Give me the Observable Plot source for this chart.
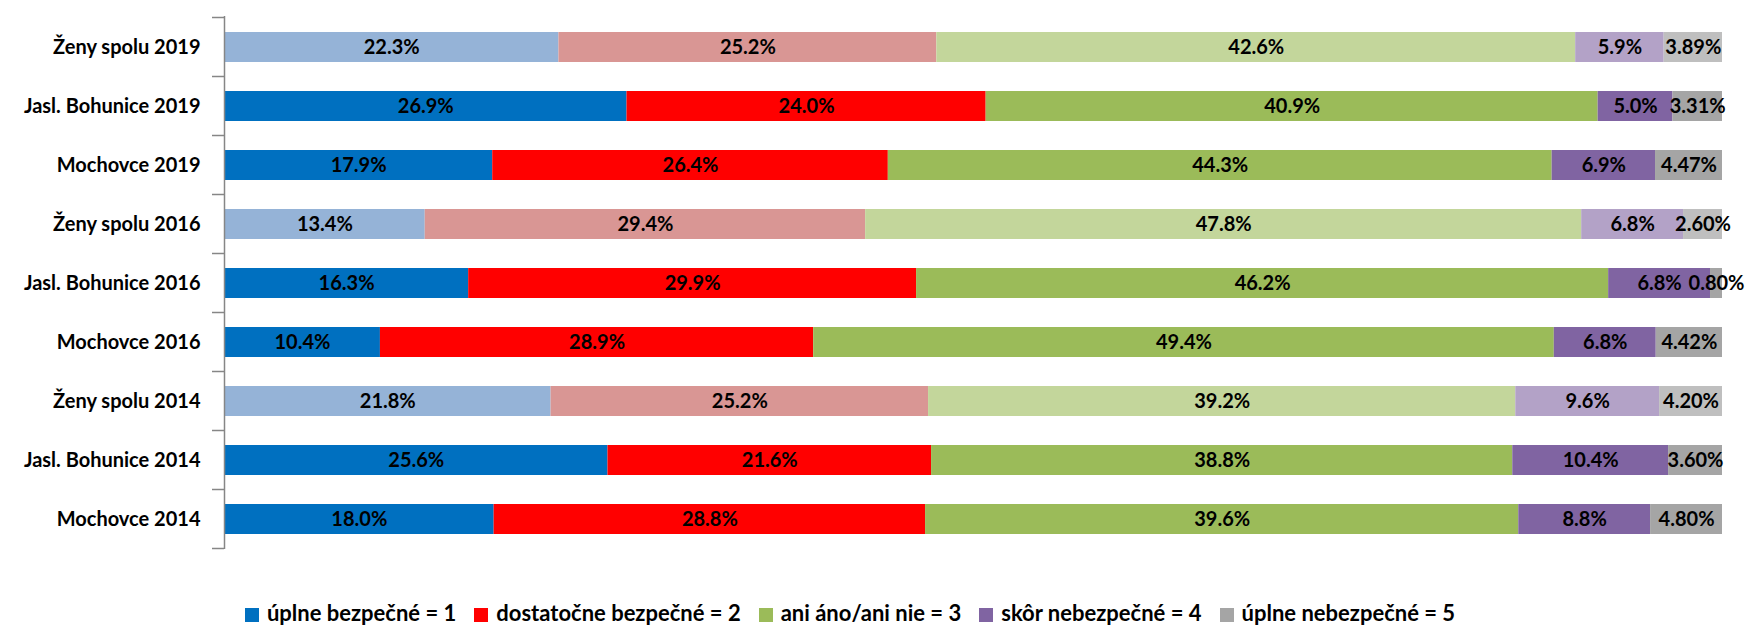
<!DOCTYPE html>
<html><head><meta charset="utf-8">
<script src="https://cdn.jsdelivr.net/npm/d3@7"></script>
<script src="https://cdn.jsdelivr.net/npm/@observablehq/plot@0.6"></script>
<style>
body{margin:0;background:#fff;font-family:Lato, sans-serif;}
#wrap{position:relative;width:1750px;height:628px;overflow:hidden;}
#legend{position:absolute;top:600px;left:0;width:1700px;height:26px;line-height:26px;display:flex;justify-content:center;align-items:center;gap:18px;font:bold 22px/26px Lato, sans-serif;color:#000;}
#legend .item{display:flex;align-items:center;gap:8px;white-space:nowrap;}
#legend .sw{width:14px;height:14px;display:inline-block;margin-top:3px;}
</style></head><body><div id="wrap"><div id="chart"></div><div id="legend"></div></div>
<script>
const rows = ["Ženy spolu 2019","Jasl. Bohunice 2019","Mochovce 2019","Ženy spolu 2016","Jasl. Bohunice 2016","Mochovce 2016","Ženy spolu 2014","Jasl. Bohunice 2014","Mochovce 2014"];
const rowShade = ["light","dark","dark","light","dark","dark","light","dark","dark"];
const categories = ["úplne bezpečné = 1","dostatočne bezpečné = 2","ani áno/ani nie = 3","skôr nebezpečné = 4","úplne nebezpečné = 5"];
const cat1 = [22.3,26.9,17.9,13.4,16.3,10.4,21.8,25.6,18.0];
const cat2 = [25.2,24.0,26.4,29.4,29.9,28.9,25.2,21.6,28.8];
const cat3 = [42.6,40.9,44.3,47.8,46.2,49.4,39.2,38.8,39.6];
const cat4 = [5.9,5.0,6.9,6.8,6.8,6.8,9.6,10.4,8.8];
const cat5 = [3.89,3.31,4.47,2.60,0.80,4.42,4.20,3.60,4.80];
const labelDecimals = [1,1,1,1,2];
const darkColors = ["#0070C0","#FF0000","#9BBB59","#8064A2","#A5A5A5"];
const lightColors = ["#95B3D7","#D99694","#C3D69B","#B3A2C7","#BFBFBF"];

const series = [cat1,cat2,cat3,cat4,cat5];
const data = [];
rows.forEach((r,i) => series.forEach((s,c) => data.push({
  row: r, cat: categories[c], ci: c, value: s[i],
  key: rowShade[i] + "|" + c,
  label: s[i].toFixed(labelDecimals[c]) + "%"
})));
const colorDomain = [], colorRange = [];
categories.forEach((c,i) => {
  colorDomain.push("dark|"+i, "light|"+i);
  colorRange.push(darkColors[i], lightColors[i]);
});

const stackOpts = {x: "value", y: "row", z: "cat", order: categories, offset: "normalize"};
const plot = Plot.plot({
  width: 1750, height: 575,
  marginLeft: 224, marginRight: 28, marginTop: 16, marginBottom: 26,
  style: {fontFamily: "Lato, sans-serif", background: "#fff"},
  x: {domain: [0,1], axis: null},
  y: {domain: rows, paddingInner: 0.5, paddingOuter: 0.25, label: null},
  color: {type: "ordinal", domain: colorDomain, range: colorRange},
  marks: [
    Plot.barX(data, Plot.stackX({...stackOpts, fill: "key"})),
    Plot.text(data, Plot.stackX({...stackOpts, text: "label", fill: "#000", fontSize: 20, fontWeight: "bold"})),
    Plot.ruleX([0], {stroke: "#868686", strokeWidth: 1.5}),
    Plot.axisY({tickSize: 0, tickPadding: 24, fontSize: 20, fontWeight: "bold", fill: "#000", label: null})
  ]
});
document.getElementById("chart").appendChild(plot);

// category boundary tick marks on the y axis
const ys = plot.scale("y");
const xs = plot.scale("x");
const gap = (ys.step - ys.bandwidth) / 2;
const bounds = rows.map(r => ys.apply(r) - gap);
bounds.push(ys.apply(rows[rows.length-1]) + ys.bandwidth + gap);
const x0 = xs.apply(0);
d3.select(plot).append("g").selectAll("line").data(bounds).join("line")
  .attr("x1", x0 - 12).attr("x2", x0).attr("y1", d => d).attr("y2", d => d)
  .attr("stroke", "#868686").attr("stroke-width", 1.5);

const legend = d3.select("#legend");
categories.forEach((c,i) => {
  const it = legend.append("div").attr("class","item");
  it.append("span").attr("class","sw").style("background", darkColors[i]);
  it.append("span").text(c);
});
</script></body></html>
